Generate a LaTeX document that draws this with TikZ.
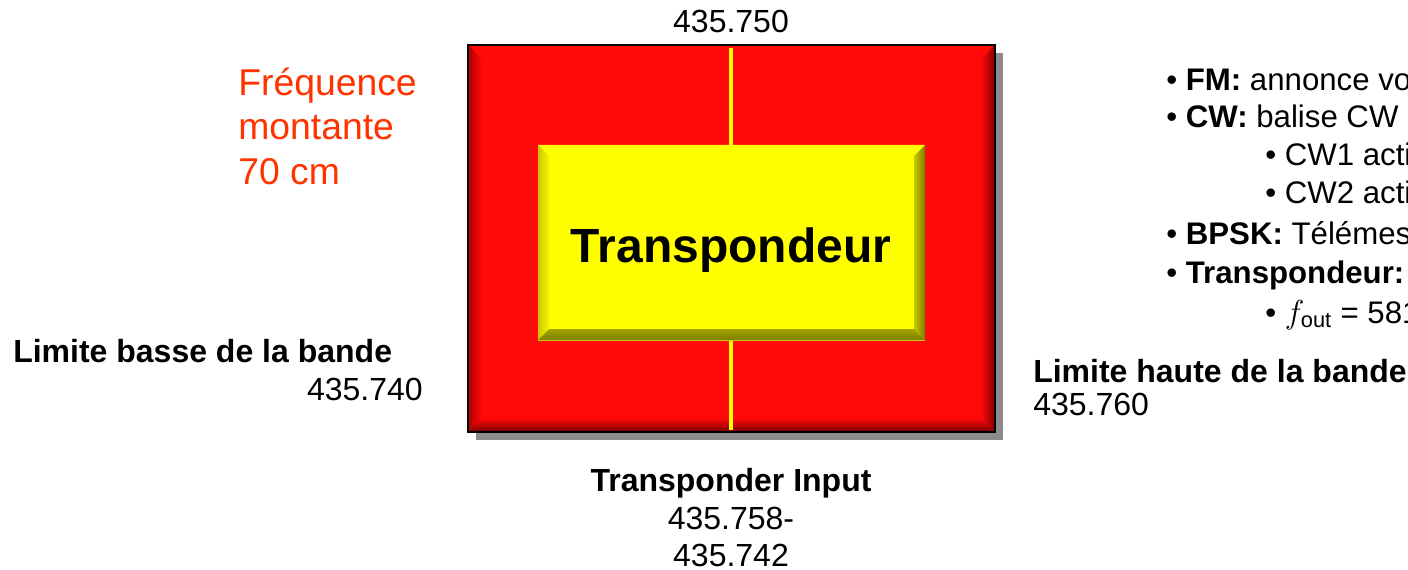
\documentclass[tikz,border=0pt]{standalone}
\usepackage{fontspec}
\setmainfont{Liberation Sans}
\definecolor{boxred}{HTML}{FF0909}
\definecolor{redtop}{HTML}{FF4A4A}
\definecolor{redleft}{HTML}{B00000}
\definecolor{redright}{HTML}{800000}
\definecolor{redbottom}{HTML}{780000}
\definecolor{boxyel}{HTML}{FFFF00}
\definecolor{yeltop}{HTML}{FFFF50}
\definecolor{yelleft}{HTML}{C8C800}
\definecolor{yelright}{HTML}{7A7A00}
\definecolor{yelbottom}{HTML}{7E7E00}
\definecolor{freq}{HTML}{FF3300}
\definecolor{shadowgray}{HTML}{8C8C8C}
\tikzset{
  lbl/.style={inner sep=0pt, font=\fontsize{24}{28}\selectfont},
  blbl/.style={lbl, font=\fontsize{24}{28}\selectfont\bfseries},
  rlbl/.style={inner sep=0pt, font=\fontsize{23.4}{28}\selectfont},
  flbl/.style={inner sep=0pt, text=freq, font=\fontsize{28}{33}\selectfont},
}
\begin{document}
\begin{tikzpicture}[x=0.75pt,y=-0.75pt]
\useasboundingbox (0,0) rectangle (1408,570);
\clip (0,0) rectangle (1408,570);
% outer box with shadow and bevel
\fill[shadowgray] (476,53) rectangle (1003,440);
\fill[boxred] (468,45) rectangle (995,432);
\shade[top color=boxred, middle color=redtop, bottom color=boxred] (468,45) -- (995,45) -- (981,59) -- (482,59) -- cycle;
\shade[left color=redleft, right color=boxred] (468,45) -- (482,59) -- (482,418) -- (468,432) -- cycle;
\shade[left color=boxred, right color=redright] (995,45) -- (981,59) -- (981,418) -- (995,432) -- cycle;
\shade[top color=boxred, bottom color=redbottom] (468,432) -- (482,418) -- (981,418) -- (995,432) -- cycle;
\draw[black, line width=2.2pt] (468,45) rectangle (995,432);
% yellow vertical line
\coordinate (ltop) at (731,48);
\coordinate (lbot) at (731,430);
\draw[boxyel, line width=3pt] (ltop) -- (lbot);
% inner box
\fill[boxyel] (538,145) rectangle (925,340);
\shade[top color=boxyel, middle color=yeltop, bottom color=boxyel] (538,145) -- (925,145) -- (914,156) -- (549,156) -- cycle;
\shade[left color=yelleft, right color=boxyel!85!yelleft] (538,145) -- (549,156) -- (549,329) -- (538,340) -- cycle;
\shade[left color=boxyel!60!yelright, right color=yelright] (925,145) -- (914,156) -- (914,329) -- (925,340) -- cycle;
\shade[top color=yelbottom!70!boxyel, bottom color=yelbottom] (538,340) -- (549,329) -- (914,329) -- (925,340) -- cycle;
\draw[boxyel!80!black, line width=0.5pt] (538,340) -- (925,340);
\node[inner sep=0pt, anchor=base, font=\fontsize{36}{40}\selectfont\bfseries] (tp) at (731,262) {Transpondeur};
% top label
\node[lbl, anchor=base] (top) at (731,33) {435.750};
% left labels
\node[flbl, anchor=base west] (f1) at (238,96) {Fréquence};
\node[flbl, anchor=base west] (f2) at (238,140) {montante};
\node[flbl, anchor=base west] (f3) at (238,185) {70 cm};
\node[blbl, anchor=base west] (lb) at (13,362) {Limite basse de la bande};
\node[lbl, anchor=base east] (lbv) at (423,400) {435.740};
% right lower labels
\node[blbl, anchor=base west] (lh) at (1033,382) {Limite haute de la bande};
\node[lbl, anchor=base west] (lhv) at (1033,415) {435.760};
% bottom labels
\node[blbl, anchor=base] (ti) at (731,491) {Transponder Input};
\node[lbl, anchor=base] (ti1) at (731,529) {435.758-};
\node[lbl, anchor=base] (ti2) at (731,566) {435.742};
% right list
\node[rlbl, anchor=base west] (r1) at (1166,91) {• \textbf{FM:} annonce vo};
\node[rlbl, anchor=base west] (r2) at (1166,128) {• \textbf{CW:} balise CW};
\node[rlbl, anchor=base west] (r3) at (1265,166) {• CW1 acti};
\node[rlbl, anchor=base west] (r4) at (1265,204) {• CW2 acti};
\node[rlbl, anchor=base west] (r5) at (1166,244) {• \textbf{BPSK:} Télémes};
\node[rlbl, anchor=base west] (r6) at (1166,283) {• \textbf{Transpondeur:}};
\node[rlbl, anchor=base west] (r7) at (1265,323) {• $f_{\mathrm{\fontsize{17}{20}\selectfont out}}$ = 581};
\end{tikzpicture}
\end{document}
